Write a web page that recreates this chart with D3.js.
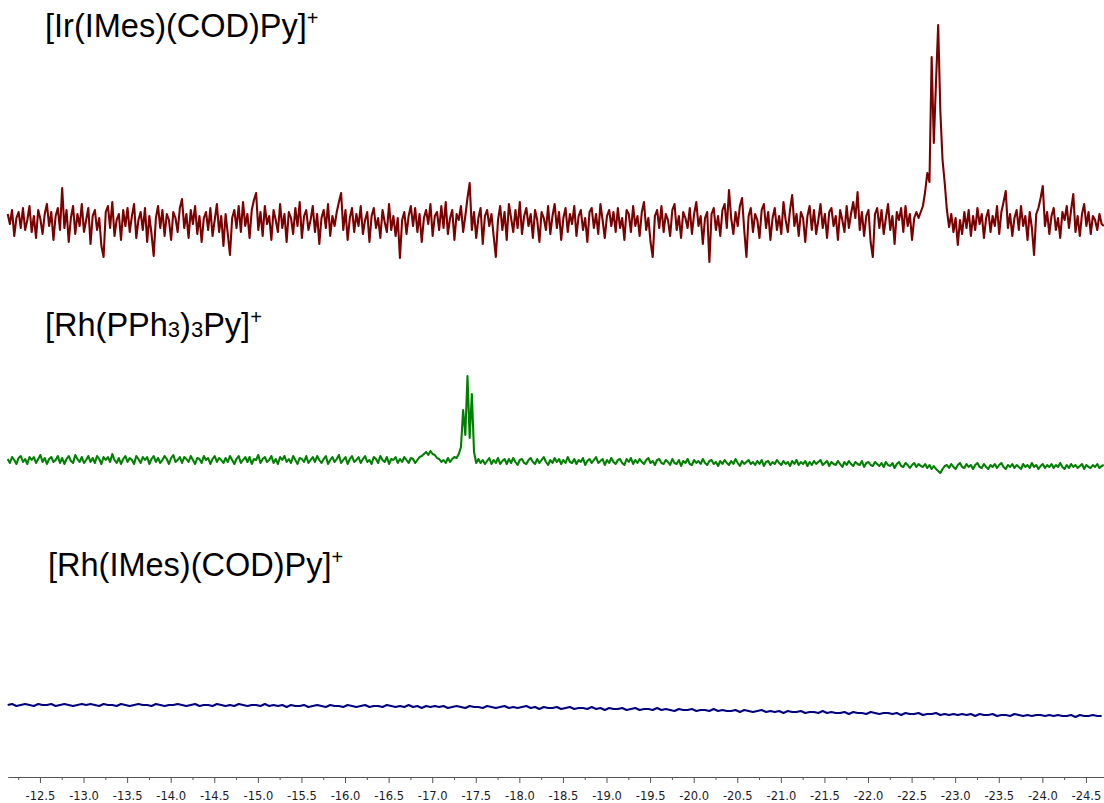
<!DOCTYPE html>
<html>
<head>
<meta charset="utf-8">
<script src="https://cdn.jsdelivr.net/npm/d3@7/dist/d3.min.js"></script>
<style>
  html, body { margin: 0; padding: 0; background: #fff; }
  svg { display: block; }
</style>
</head>
<body>
<svg id="chart" width="1104" height="803"></svg>
<script>
// ---- DATA (chemical shift in ppm, intensity in arbitrary units) ----
const ppmStart = -12.13;          // first point of every trace
const irStep = -0.025, rhpStep = -0.025, rhiStep = -0.05;

const irValues = [
 8,-2,12,-14,4,10,-6,14,-8,2,16,-10,6,-16,12,3,-12,8,18,-4,
 10,-18,6,14,-8,34,-6,12,-20,4,16,-12,8,-4,18,-10,2,14,-22,6,
 12,-8,4,-24,-35,10,16,-6,20,-14,2,8,-18,12,-4,14,-10,6,18,-16,
 2,10,-8,14,-20,6,-12,-34,4,16,-6,12,-14,8,2,-18,10,4,-10,14,
 23,-6,8,-16,12,-2,16,-12,6,-20,4,10,-8,14,-14,2,18,-10,6,-24,
 8,-12,-33,4,12,-6,16,-10,20,-4,8,-16,12,22,29,-8,10,-14,16,-2,
 6,-18,12,2,-10,18,-6,8,-20,10,4,-12,14,-4,20,-16,6,12,-8,2,
 16,-10,8,-22,4,12,-6,18,-14,6,-4,10,20,29,-8,12,-18,4,14,-10,
 8,-4,16,-12,2,10,-20,6,14,-6,4,-16,12,0,-10,18,-8,6,-14,4,
 -36,2,10,-12,6,16,-4,14,-10,8,-20,4,12,-2,18,-14,6,10,-8,16,
 -6,20,-12,4,12,-18,8,2,16,-10,6,24,39,-8,10,-16,4,14,-22,6,
 12,-4,8,-14,-35,2,16,-8,10,-18,18,4,-10,12,-6,20,-12,6,14,-4,
 8,-16,12,2,-20,10,4,-8,16,-12,6,18,-6,10,-18,4,14,-10,8,-2,
 16,-14,6,12,-8,4,-20,10,14,-6,8,-12,18,2,-16,6,12,-4,10,-10,
 14,-6,4,-18,12,8,-10,16,-4,6,-14,10,20,-8,4,-20,-35,6,12,-6,
 16,-10,8,2,-14,12,18,-8,6,-16,10,4,-6,14,-12,8,20,-4,6,-22,
 4,10,-40,8,14,-8,6,-14,12,18,-6,32,4,-12,10,-4,16,24,-8,-35,
 6,14,-10,8,2,-16,12,18,-6,10,-18,4,14,-8,6,-12,20,2,-10,12,
 27,-4,8,-14,10,4,-20,6,16,-8,12,-12,2,18,-6,8,-16,10,14,-4,
 6,-18,12,2,-10,16,-6,8,20,4,30,-8,10,-14,6,12,-20,-35,8,14,
 -6,12,-12,4,18,-8,6,-22,10,2,14,-10,16,-4,8,-18,4,10,4,10,
 16,30,49,40,165,79,140,197,110,62,39,12,-5,8,-10,4,-23,2,-12,10,
 -6,12,-14,6,-8,14,-2,8,-16,4,12,-10,6,-4,16,-12,10,20,31,-6,
 8,-14,4,12,-8,16,-4,6,-18,10,-6,-33,8,14,24,36,-4,10,-12,6,
 14,-8,4,-16,10,2,16,-6,12,28,-10,6,-14,8,18,-4,10,-12,6,2,
 -8,8,-2,-4
];

const rhpValues = [
 1,-3,3,0,-4,2,4,-2,1,-4,3,0,3,-3,1,5,-2,2,-4,1,
 3,-2,0,4,-3,2,-4,1,4,-1,-3,5,1,-2,3,-3,0,4,-2,2,
 -3,4,1,-4,3,0,3,-2,6,0,-3,2,-4,1,4,-2,2,0,-4,4,
 1,-3,3,0,3,-4,1,4,-2,2,-3,0,4,1,-4,2,5,-2,0,3,
 -3,3,1,-2,4,0,-4,2,1,-3,4,0,2,-4,1,4,-2,2,0,-3,
 2,-2,4,0,-4,1,4,-3,0,3,-2,3,-4,1,0,5,-3,1,3,-2,
 0,4,-3,1,-4,3,0,4,-2,1,-3,4,0,-4,2,1,-2,4,-3,0,
 3,-2,4,0,-3,1,4,-4,0,3,-2,1,5,-3,0,3,-4,1,4,-2,
 0,3,-3,1,4,-2,0,-4,3,1,-3,4,0,-2,3,-4,1,0,3,-3,
 1,-2,3,0,-3,2,1,-3,0,3,4,6,8,5,9,6,5,2,1,-2,
 0,-3,2,-2,1,3,2,6,13,50,25,84,22,66,8,-3,1,-3,0,-4,
 -1,2,-4,0,-3,2,-4,-1,1,-4,1,-3,2,-2,-5,0,1,-3,-4,0,
 2,-2,-4,1,-3,0,3,-2,-5,0,-3,2,-2,1,-4,0,-3,3,-2,-3,
 1,-4,0,-2,2,-5,-1,1,-3,0,3,-3,-1,1,-5,0,-3,2,-2,-4,
 0,1,-3,-5,1,-2,2,-4,0,-3,1,-2,-4,0,2,-3,-1,-5,0,1,
 -3,-4,0,-2,-5,1,-3,-4,0,-6,-1,-3,1,-4,-5,0,-3,-1,-4,1,
 -3,-5,-1,0,-4,-2,-6,-1,-4,0,-3,-5,-1,-4,1,-3,-6,-1,-4,-2,
 0,-4,-2,-5,-1,-4,0,-6,-2,-1,-5,-2,-4,0,-3,-5,-1,-4,-2,-6,
 -1,-4,0,-5,-2,-4,-1,-6,-2,-5,-1,-4,-2,0,-5,-3,-1,-6,-2,-4,
 -5,-1,-4,-7,-2,-5,-1,-4,-6,-2,-4,-5,-1,-7,-3,-2,-5,-6,-2,-4,
 -6,-3,-7,-2,-5,-6,-3,-8,-4,-2,-6,-7,-3,-5,-8,-5,-3,-7,-4,-6,
 -7,-4,-8,-5,-9,-6,-9,-11,-13,-9,-6,-5,-8,-4,-7,-9,-5,-3,-7,-8,
 -4,-7,-5,-9,-5,-3,-7,-8,-4,-7,-9,-5,-7,-4,-8,-5,-3,-7,-9,-5,
 -7,-4,-8,-5,-7,-9,-4,-7,-5,-8,-3,-7,-5,-9,-6,-4,-8,-5,-7,-4,
 -8,-5,-7,-3,-7,-9,-5,-8,-4,-7,-5,-8,-6,-4,-9,-5,-7,-8,-5,-7,
 -4,-8,-6,-5
];

const rhiValues = [
 0,1,-1,0,1,0,-1,1,0,0,1,-1,0,1,0,-1,0,1,0,1,
 0,-1,1,0,0,-1,1,0,-1,0,1,0,0,-1,1,0,-1,0,0,1,
 0,-1,0,1,-1,0,0,-1,1,0,-1,0,-1,1,0,-1,0,0,-1,1,
 -1,0,-1,0,-2,0,-1,-1,0,-2,-1,0,-1,-2,0,-1,-1,-2,0,-1,
 -2,-1,0,-2,-1,-1,-2,0,-1,-2,-1,-2,0,-2,-1,-3,-1,-2,-1,-2,
 -1,-3,-2,-1,-2,-3,-1,-2,-2,-3,-1,-2,-3,-2,-1,-3,-2,-3,-2,-1,
 -3,-2,-4,-2,-3,-3,-2,-4,-3,-2,-4,-3,-3,-4,-2,-4,-3,-5,-3,-4,
 -4,-3,-5,-4,-3,-5,-4,-4,-5,-3,-5,-4,-5,-6,-4,-5,-5,-4,-6,-5,
 -5,-6,-4,-6,-5,-6,-6,-5,-7,-5,-6,-7,-6,-5,-7,-6,-7,-6,-8,-6,
 -7,-7,-6,-8,-7,-7,-8,-6,-8,-7,-8,-8,-7,-9,-7,-8,-8,-9,-7,-8,
 -9,-8,-8,-9,-8,-10,-8,-9,-9,-8,-10,-9,-9,-8,-10,-9,-10,-9,-10,-9,
 -10,-9,-11,-9,-10,-10,-9,-11,-10,-10,-11,-9,-10,-11,-10,-11,-10,-10,-11,-10,
 -11,-10,-11,-11,-10,-12,-10,-11,-11,-10,-11,-11
];

const majorTicks = [-12.5,-13.0,-13.5,-14.0,-14.5,-15.0,-15.5,-16.0,-16.5,-17.0,-17.5,-18.0,
  -18.5,-19.0,-19.5,-20.0,-20.5,-21.0,-21.5,-22.0,-22.5,-23.0,-23.5,-24.0,-24.5];
const minorTicks = [-12.25,-12.75,-13.25,-13.75,-14.25,-14.75,-15.25,-15.75,-16.25,-16.75,
  -17.25,-17.75,-18.25,-18.75,-19.25,-19.75,-20.25,-20.75,-21.25,-21.75,-22.25,-22.75,
  -23.25,-23.75,-24.25];

const traces = [
  { name: "ir",  values: irValues,  step: irStep,  color: "#7b0000", base: 222, width: 2.1 },
  { name: "rhp", values: rhpValues, step: rhpStep, color: "#008000", base: 460, width: 2.1 },
  { name: "rhi", values: rhiValues, step: rhiStep, color: "#00007f", base: 705, width: 2.0 }
];

// ---- DRAWING ----
const svg = d3.select("#chart");

const x = d3.scaleLinear().domain([-12.13, -24.705]).range([7.7, 1103.8]);

traces.forEach(t => {
  const y = d3.scaleLinear().domain([0, 100]).range([t.base, t.base - 100]);
  const pts = t.values.map((v, i) => [ppmStart + i * t.step, v]);
  const line = d3.line().x(d => x(d[0])).y(d => y(d[1]));
  svg.append("path")
    .datum(pts)
    .attr("d", line)
    .attr("fill", "none")
    .attr("stroke", t.color)
    .attr("stroke-width", t.width)
    .attr("stroke-linejoin", "round");
});

// axis
const axisY = 777;
const gMinor = svg.append("g").attr("transform", `translate(0,${axisY})`)
  .call(d3.axisBottom(x).tickValues(minorTicks).tickSize(3).tickSizeOuter(0).tickFormat(""));
gMinor.select(".domain").remove();
gMinor.selectAll("line").attr("stroke", "#555");

const gMajor = svg.append("g").attr("transform", `translate(0,${axisY})`)
  .call(d3.axisBottom(x).tickValues(majorTicks).tickSize(6).tickSizeOuter(0).tickPadding(9)
    .tickFormat(d => d.toFixed(1)));
gMajor.select(".domain").attr("stroke", "#555");
gMajor.selectAll("line").attr("stroke", "#555");
gMajor.selectAll("text")
  .attr("font-family", "DejaVu Sans, Verdana, sans-serif")
  .attr("font-size", "11.5px")
  .attr("fill", "#1a1a2a");

// labels
const lf = "Liberation Sans, Arial, sans-serif";
function label(xp, yp, parts) {
  const t = svg.append("text").attr("x", xp).attr("y", yp)
    .attr("font-family", lf).attr("font-size", 32.5).attr("fill", "#000");
  parts.forEach(p => {
    const s = t.append("tspan").text(p.t);
    if (p.sub) s.attr("font-size", 22).attr("dy", 1);
    if (p.back) s.attr("dy", -1);
    if (p.sup) s.attr("font-size", 20).attr("dy", -12);
  });
}
label(45, 37, [{t: "[Ir(IMes)(COD)Py]"}, {t: "+", sup: true}]);
label(45, 336, [{t: "[Rh(PPh"}, {t: "3", sub: true}, {t: ")", back: true}, {t: "3", sub: true},
  {t: "Py]", back: true}, {t: "+", sup: true}]);
label(48, 576, [{t: "[Rh(IMes)(COD)Py]"}, {t: "+", sup: true}]);
</script>
</body>
</html>
